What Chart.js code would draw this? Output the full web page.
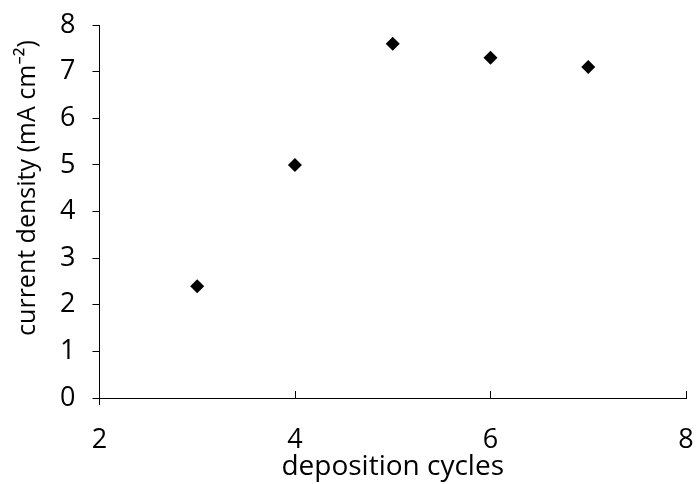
<!DOCTYPE html>
<html>
<head>
<meta charset="utf-8">
<script src="https://cdn.jsdelivr.net/npm/chart.js@4"></script>
<style>
    html, body { margin: 0; padding: 0; background: #fff; }
</style>
</head>
<body>
<canvas id="chart" width="698" height="484"></canvas>
<script>
// deposition cycles vs current density, black diamonds, Excel-like axes

const cycles = [3, 4, 5, 6, 7];
const density = [2.4, 5.0, 7.6, 7.3, 7.1];

const xTicks = [2, 4, 6, 8];
const yTicks = [0, 1, 2, 3, 4, 5, 6, 7, 8];

const yTitle = 'current density (mA cm\u207B\u00B2)';

const FONT = "'Open Sans', 'Noto Sans', sans-serif";

// Excel draws the x ticks pointing into the plot, and places the
// y title a bit above the middle of the axis
const excelBits = {
    id: 'excelBits',
    afterDraw(chart) {
        const { ctx, scales: { x, y } } = chart;
        const base = y.getPixelForValue(0);
        ctx.save();
        ctx.strokeStyle = '#000';
        ctx.lineWidth = 1;
        ctx.beginPath();
        xTicks.forEach(v => {
            const px = Math.round(x.getPixelForValue(v)) + 0.5;
            ctx.moveTo(px, base - 7);
            ctx.lineTo(px, base);
        });
        // y axis runs a little past the x axis
        const x0 = Math.round(x.getPixelForValue(xTicks[0])) + 0.5;
        ctx.moveTo(x0, base);
        ctx.lineTo(x0, base + 7);
        ctx.stroke();

        ctx.translate(28, 188);
        ctx.rotate(-Math.PI / 2);
        ctx.fillStyle = '#000';
        ctx.font = `25px ${FONT}`;
        ctx.textAlign = 'center';
        ctx.textBaseline = 'middle';
        ctx.fillText(yTitle, 0, 0);
        ctx.restore();
    },
};

new Chart(document.getElementById('chart'), {
    type: 'scatter',
    data: {
        datasets: [{
            data: cycles.map((c, i) => ({ x: c, y: density[i] })),
            pointStyle: 'rectRot',
            pointRadius: 7,
            pointHoverRadius: 7,
            backgroundColor: '#000',
            borderColor: '#000',
            borderWidth: 0,
        }],
    },
    options: {
        responsive: false,
        animation: false,
        layout: { padding: { top: 0, right: 12, left: 43, bottom: 0 } },
        plugins: { legend: { display: false }, tooltip: { enabled: false } },
        scales: {
            x: {
                type: 'linear',
                min: 2,
                max: 8,
                afterBuildTicks: s => { s.ticks = xTicks.map(v => ({ value: v })); },
                border: { color: '#000', width: 1 },
                // invisible outer ticks just hold the gap under the axis
                grid: { drawOnChartArea: false, drawTicks: true, tickLength: 26, tickColor: 'rgba(0,0,0,0)' },
                ticks: { color: '#000', font: { family: FONT, size: 27 }, padding: 0, maxRotation: 0 },
                title: {
                    display: true,
                    text: 'deposition cycles',
                    color: '#000',
                    font: { family: FONT, size: 28 },
                    padding: { top: -6, bottom: 0 },
                },
            },
            y: {
                min: 0,
                max: 8,
                afterBuildTicks: s => { s.ticks = yTicks.map(v => ({ value: v })); },
                border: { color: '#000', width: 1 },
                grid: { drawOnChartArea: false, color: '#000', tickLength: 7 },
                // small lineHeight keeps the top label from pushing the plot down
                ticks: { color: '#000', font: { family: FONT, size: 27, lineHeight: 0.6 }, padding: 17 },
            },
        },
    },
    plugins: [excelBits],
});
</script>
</body>
</html>
